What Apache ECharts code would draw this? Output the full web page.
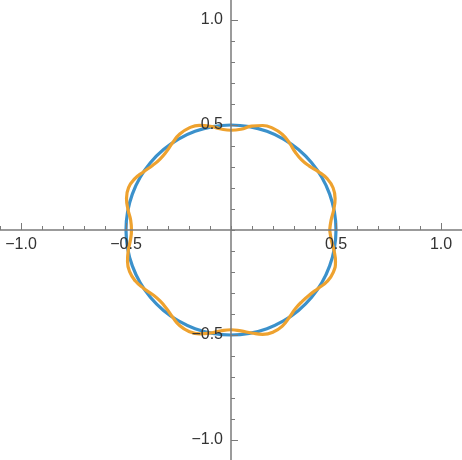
<!DOCTYPE html>
<html>
<head>
<meta charset="utf-8">
<script src="https://cdn.jsdelivr.net/npm/echarts@6/dist/echarts.min.js"></script>
<style>
  html, body { margin: 0; padding: 0; background: #fff; }
  #chart { width: 462px; height: 460px; }
</style>
</head>
<body>
<div id="chart"></div>
<script>
// Blue curve: circle of radius 0.5 (angle in degrees, radius in data units)
const circleAngles = [0,10,20,30,40,50,60,70,80,90,100,110,120,130,140,150,160,170,180,
  190,200,210,220,230,240,250,260,270,280,290,300,310,320,330,340,350,360];
const circleRadius = [0.5,0.5,0.5,0.5,0.5,0.5,0.5,0.5,0.5,0.5,0.5,0.5,0.5,0.5,0.5,0.5,0.5,0.5,0.5,
  0.5,0.5,0.5,0.5,0.5,0.5,0.5,0.5,0.5,0.5,0.5,0.5,0.5,0.5,0.5,0.5,0.5,0.5];

// Orange curve: wavy circle, radius read at angles (degrees)
const wavyAngles = [0,5.6,11.3,16.9,22.5,28.1,33.8,39.4,45,50.6,56.3,61.9,67.5,73.1,78.8,84.4,
  90,95.6,101.3,106.9,112.5,118.1,123.8,129.4,135,140.6,146.3,151.9,157.5,163.1,168.8,174.4,
  180,185.6,191.3,196.9,202.5,208.1,213.8,219.4,225,230.6,236.3,241.9,247.5,253.1,258.8,264.4,
  270,275.6,281.3,286.9,292.5,298.1,303.8,309.4,315,320.6,326.3,331.9,337.5,343.1,348.8,354.4,360];
const wavyRadius = [0.470,0.479,0.499,0.518,0.526,0.519,0.500,0.481,0.474,0.481,0.500,0.517,0.524,0.520,0.504,0.482,
  0.475,0.483,0.504,0.521,0.525,0.518,0.500,0.484,0.478,0.484,0.500,0.519,0.528,0.520,0.500,0.480,
  0.474,0.481,0.499,0.515,0.522,0.516,0.500,0.484,0.478,0.484,0.500,0.517,0.523,0.517,0.500,0.482,
  0.475,0.483,0.500,0.519,0.526,0.519,0.500,0.484,0.480,0.485,0.500,0.519,0.527,0.520,0.500,0.480,0.470];

// Axis ticks
const minorStep = 0.1;
const majorTicks = [-1, -0.5, 0.5, 1];
const axisMin = -1.1, axisMax = 1.1;

const circleData = circleAngles.map((a, i) => [circleRadius[i], a]);
const wavyData = wavyAngles.map((a, i) => [wavyRadius[i], a]);

const axisColor = '#7a7a7a';
const textStyle = { fontSize: 16, color: '#333', fontFamily: 'Liberation Sans, Arial, sans-serif' };

function fmt(v) {
  const r = Math.round(v * 10);
  if (r === 0 || r % 5 !== 0) return '';
  return (r < 0 ? '\u2212' : '') + Math.abs(r / 10).toFixed(1);
}

function mainAxis(gridIndex, pos, margin) {
  return {
    type: 'value', gridIndex: gridIndex, min: axisMin, max: axisMax, interval: minorStep, position: pos,
    z: 10,
    axisLine: { show: true, onZero: false, lineStyle: { color: axisColor, width: 1.5 } },
    axisTick: { show: true, inside: true, length: 4, lineStyle: { color: axisColor, width: 1 } },
    axisLabel: Object.assign({ show: true, margin: margin, formatter: fmt, hideOverlap: false,
      showMinLabel: true, showMaxLabel: true }, textStyle),
    splitLine: { show: false }
  };
}
function majorAxis(gridIndex, pos) {
  return {
    type: 'value', gridIndex: gridIndex, min: axisMin, max: axisMax, position: pos,
    z: 10,
    axisLine: { show: false, onZero: false },
    axisTick: { show: true, inside: true, length: 7, customValues: majorTicks,
      lineStyle: { color: axisColor, width: 1 } },
    axisLabel: { show: false },
    splitLine: { show: false }
  };
}
function hiddenAxis(gridIndex) {
  return { type: 'value', gridIndex: gridIndex, min: 0, max: 1, show: false,
    axisLine: { show: false, onZero: false }, splitLine: { show: false } };
}

const chart = echarts.init(document.getElementById('chart'), null, { renderer: 'canvas' });
chart.setOption({
  animation: false,
  backgroundColor: '#ffffff',
  grid: [
    // top half: its bottom edge is the y = 0 line, carrying the x axis
    { left: 0, top: -1, width: 462, height: 231, containLabel: false, outerBoundsMode: 'none' },
    // right half: its left edge is the x = 0 line, carrying the y axis
    { left: 231, top: -1, width: 231, height: 462, containLabel: false, outerBoundsMode: 'none' }
  ],
  xAxis: [mainAxis(0, 'bottom', 7), majorAxis(0, 'bottom'), hiddenAxis(1)],
  yAxis: [hiddenAxis(0), mainAxis(1, 'left', 8), majorAxis(1, 'left')],
  polar: { center: [231, 230], radius: 231 },
  radiusAxis: { type: 'value', min: 0, max: 1.1, show: false },
  angleAxis: { type: 'value', min: 0, max: 360, startAngle: 0, clockwise: false, show: false },
  series: [
    {
      type: 'line', coordinateSystem: 'polar', data: circleData, smooth: true,
      showSymbol: false, symbol: 'none',
      lineStyle: { color: '#3b91cb', width: 3.2 }, z: 3
    },
    {
      type: 'line', coordinateSystem: 'polar', data: wavyData, smooth: true,
      showSymbol: false, symbol: 'none',
      lineStyle: { color: '#eea22f', width: 3.2 }, z: 4
    }
  ]
});
</script>
</body>
</html>
